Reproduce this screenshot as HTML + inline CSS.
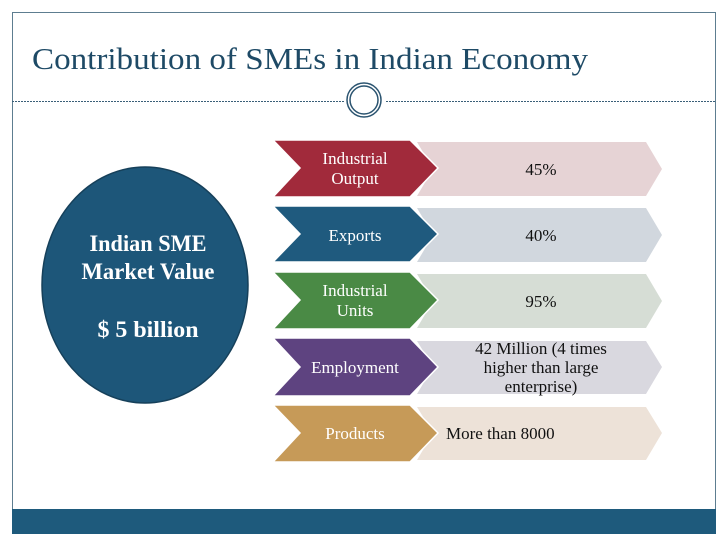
<!DOCTYPE html>
<html><head><meta charset="utf-8"><style>
html,body{margin:0;padding:0;background:#fff;}
svg{display:block;}
text{font-family:"Liberation Serif",serif;}
</style></head><body>
<svg width="728" height="546" viewBox="0 0 728 546" xmlns="http://www.w3.org/2000/svg">
<rect x="0" y="0" width="728" height="546" fill="#fff"/>
<rect x="12.5" y="12.5" width="703" height="510" fill="none" stroke="#5d7d90" stroke-width="1"/>
<rect x="12" y="509" width="704" height="25" fill="#1e5a7c"/>
<text x="32" y="69" font-size="31" fill="#1e4a66" textLength="556" lengthAdjust="spacingAndGlyphs">Contribution of SMEs in Indian Economy</text>
<line x1="12" y1="101.5" x2="344" y2="101.5" stroke="#3a5f78" stroke-width="1" stroke-dasharray="2,1"/>
<line x1="386" y1="101.5" x2="716" y2="101.5" stroke="#3a5f78" stroke-width="1" stroke-dasharray="2,1"/>
<circle cx="364" cy="100" r="17" fill="#fff" stroke="#2b5470" stroke-width="1.5"/>
<circle cx="364" cy="100" r="14" fill="#fff" stroke="#2b5470" stroke-width="1.5"/>

<ellipse cx="145" cy="285" rx="103" ry="118" fill="#1d5679" stroke="#16405a" stroke-width="1.5"/>
<g fill="#fff" font-weight="bold" font-size="23" text-anchor="middle">
<text x="148" y="251" textLength="117" lengthAdjust="spacingAndGlyphs">Indian SME</text>
<text x="148" y="279" textLength="133" lengthAdjust="spacingAndGlyphs">Market Value</text>
<text x="148" y="337" textLength="101" lengthAdjust="spacingAndGlyphs">$ 5 billion</text>
</g>

<g font-size="17" text-anchor="middle">
<polygon points="417,142 646,142 662,169 646,196 417,196 433,169" fill="#e6d3d5"/>
<polygon points="273,140 410,140 438,168 410,197 273,197 300,168" fill="#a12a3b" stroke="#fff" stroke-width="1.5"/>
<text x="355" y="164" fill="#fff">Industrial</text>
<text x="355" y="184" fill="#fff">Output</text>
<text x="541" y="175" fill="#111">45%</text>

<polygon points="417,208 646,208 662,235 646,262 417,262 433,235" fill="#d1d7de"/>
<polygon points="273,206 410,206 438,234 410,262 273,262 300,234" fill="#1f5a7e" stroke="#fff" stroke-width="1.5"/>
<text x="355" y="241" fill="#fff">Exports</text>
<text x="541" y="241" fill="#111">40%</text>

<polygon points="417,274 646,274 662,301 646,328 417,328 433,301" fill="#d6ddd5"/>
<polygon points="273,272 410,272 438,300 410,329 273,329 300,300" fill="#4a8a45" stroke="#fff" stroke-width="1.5"/>
<text x="355" y="296" fill="#fff">Industrial</text>
<text x="355" y="316" fill="#fff">Units</text>
<text x="541" y="307" fill="#111">95%</text>

<polygon points="417,341 646,341 662,367 646,394 417,394 433,367" fill="#d9d8df"/>
<polygon points="273,338 410,338 438,367 410,396 273,396 300,367" fill="#5e4380" stroke="#fff" stroke-width="1.5"/>
<text x="355" y="373" fill="#fff">Employment</text>
<text x="541" y="354" fill="#111">42 Million  (4 times</text>
<text x="541" y="373" fill="#111">higher than large</text>
<text x="541" y="392" fill="#111">enterprise)</text>

<polygon points="417,407 646,407 662,433 646,460 417,460 433,433" fill="#ede2d8"/>
<polygon points="273,405 410,405 438,433 410,462 273,462 300,433" fill="#c69a58" stroke="#fff" stroke-width="1.5"/>
<text x="355" y="439" fill="#fff">Products</text>
<text x="446" y="439" fill="#111" text-anchor="start">More than 8000</text>
</g>
</svg>
</body></html>
